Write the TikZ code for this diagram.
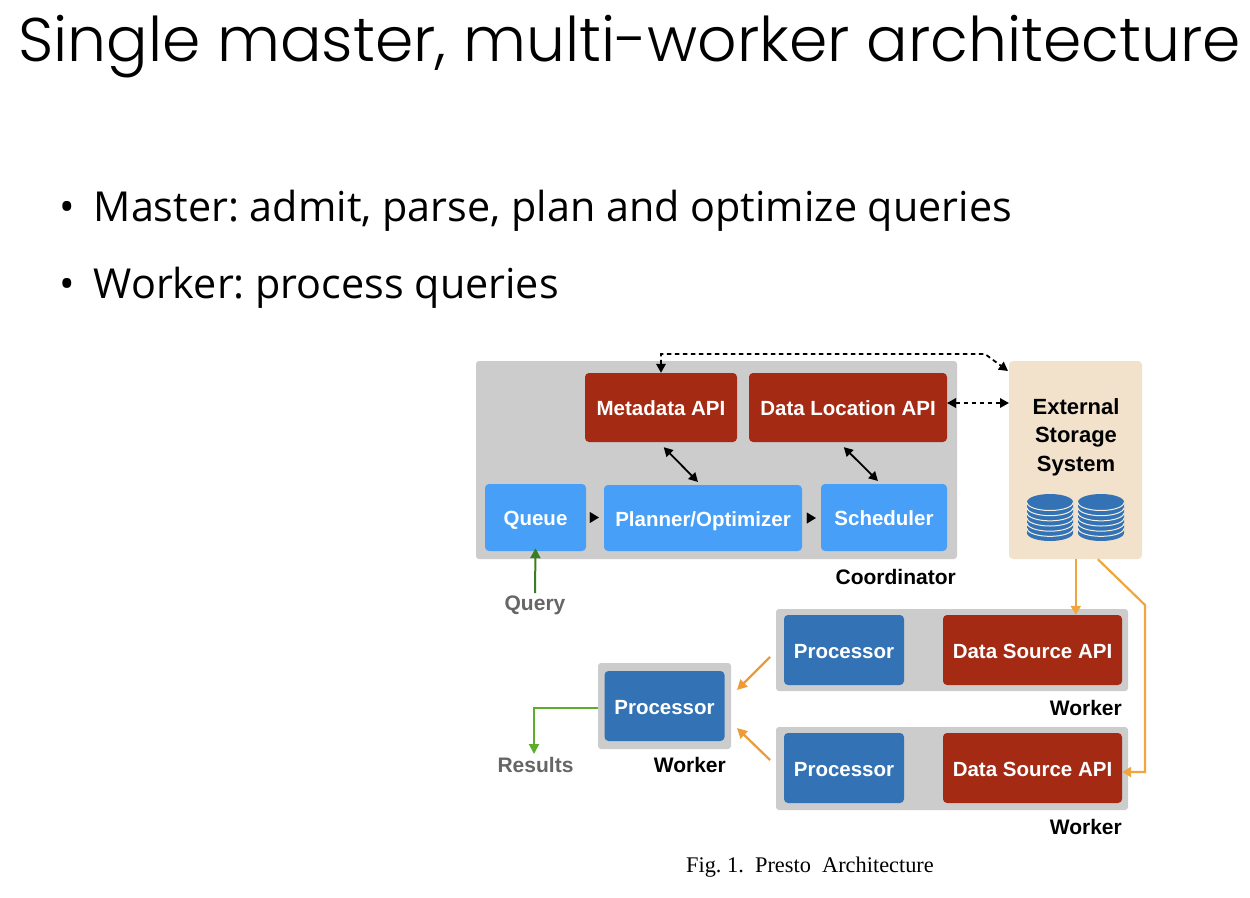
\documentclass[tikz,border=0pt]{standalone}
\usepackage{fontspec}
\setmainfont{Liberation Sans}
\newfontfamily\titlefont{Poppins}[UprightFont=* Light]
\newfontfamily\bodyfont{Open Sans}
\newfontfamily\capfont{Liberation Serif}
\usetikzlibrary{arrows.meta,calc}
\definecolor{panel}{HTML}{CCCCCC}
\definecolor{apired}{HTML}{A52A14}
\definecolor{lightblue}{HTML}{479FF8}
\definecolor{procblue}{HTML}{3373B5}
\definecolor{sand}{HTML}{F2E2CC}
\definecolor{orangeA}{HTML}{F0A63C}
\definecolor{orangeB}{HTML}{EF9A35}
\definecolor{greenA}{HTML}{3A7D22}
\definecolor{greenB}{HTML}{5BAD2B}
\definecolor{greytext}{HTML}{666666}
\tikzset{
  box/.style={inner sep=0pt,rounded corners=4pt,align=center,text=white,text height=16pt,text depth=0pt,font=\fontsize{20.5}{24}\selectfont\bfseries},
  panelbox/.style={fill=panel,draw=none,rounded corners=3pt,inner sep=0pt},
  apibox/.style={box,fill=apired},
  planbox/.style={box,fill=lightblue},
  procbox/.style={box,fill=procblue},
  caplabel/.style={inner sep=0pt,font=\fontsize{21}{24}\selectfont\bfseries},
  twoway/.style={line width=1.8pt,{Triangle[length=9pt,width=9.5pt]}-{Triangle[length=9pt,width=9.5pt]}},
  dashway/.style={twoway,dash pattern=on 4.5pt off 3.5pt},
  stepper/.style={-{Triangle[length=9pt,width=11pt]},draw=black,line width=.1pt},
  orangeflow/.style={line width=2.2pt,draw=orangeA,-{Triangle[length=9pt,width=10pt]}},
  orangeside/.style={line width=2.2pt,draw=orangeB,-{Triangle[length=10pt,width=10pt]}},
}
\newcommand{\diskstack}[2]{%
  \fill[procblue] (#1-23,#2-31) -- (#1-23,#2) arc[start angle=180,end angle=0,x radius=23,y radius=8] -- (#1+23,#2-31) arc[start angle=0,end angle=-180,x radius=23,y radius=8] -- cycle;
  \foreach \k in {0,...,5}{
    \draw[sand!60!white,line width=1pt] (#1-23,#2-30.5+\k*5.17) arc[start angle=180,end angle=0,x radius=23,y radius=8];
  }
}
\begin{document}
\begin{tikzpicture}[x=1pt,y=-1pt]
\frenchspacing
\useasboundingbox (0,0) rectangle (1250,897);
\fill[white] (0,0) rectangle (1250,897);

\node[anchor=base west,inner sep=0pt,font=\titlefont\fontsize{61.6}{70}\selectfont] (title) at (18,61) {Single master, multi-worker architecture};
\node[anchor=base west,inner sep=0pt,font=\bodyfont\fontsize{41.3}{50}\selectfont] (b1) at (59,221) {•\hspace{19pt}Master: admit, parse, plan and optimize queries};
\node[anchor=base west,inner sep=0pt,font=\bodyfont\fontsize{41.3}{50}\selectfont] (b2) at (59,298) {•\hspace{19pt}Worker: process queries};

% panels
\node[panelbox,minimum width=481pt,minimum height=198pt] (coord) at (716.5,460) {};
\node[fill=sand,rounded corners=4pt,inner sep=0pt,minimum width=133pt,minimum height=198pt] (ext) at (1075.5,460) {};
\node[panelbox,minimum width=352pt,minimum height=82pt] (w1) at (952,650) {};
\node[panelbox,minimum width=352pt,minimum height=83pt] (w2) at (952,768.5) {};
\node[panelbox,minimum width=133pt,minimum height=86pt] (w3) at (664.5,706) {};

% coordinator boxes
\node[apibox,minimum width=152pt,minimum height=69pt] (meta) at (661,407.5) {Metadata API};
\node[apibox,minimum width=198pt,minimum height=69pt] (loc) at (848,407.5) {Data Location API};
\node[planbox,minimum width=101pt,minimum height=67pt] (queue) at (535.5,517.5) {Queue};
\node[planbox,minimum width=198pt,minimum height=66pt] (plan) at (703,518) {Planner/Optimizer};
\node[planbox,minimum width=126pt,minimum height=67pt] (sched) at (884,517.5) {Scheduler};

% worker boxes
\node[procbox,minimum width=120pt,minimum height=70pt] (p1) at (844,650) {Processor};
\node[apibox,minimum width=179pt,minimum height=70pt] (d1) at (1032.5,650) {Data Source API};
\node[procbox,minimum width=120pt,minimum height=70pt] (p2) at (844,768) {Processor};
\node[apibox,minimum width=179pt,minimum height=70pt] (d2) at (1032.5,768) {Data Source API};
\node[procbox,minimum width=120pt,minimum height=70pt] (p3) at (664.5,706) {Processor};

% labels
\node[inner sep=0pt,align=center,font=\fontsize{22}{28.5}\selectfont\bfseries] (exttext) at (1076,437) {External\\Storage\\System};
\node[caplabel,anchor=base east] (lc) at (956,584) {Coordinator};
\node[caplabel,anchor=base east] (lw1) at (1122,715) {Worker};
\node[caplabel,anchor=base east] (lw2) at (1122,834) {Worker};
\node[caplabel,anchor=base east] (lw3) at (726,772) {Worker};
\node[caplabel,anchor=base,text=greytext] (query) at (535,610) {Query};
\node[caplabel,anchor=base,text=greytext] (results) at (535.5,772.5) {Results};
\node[inner sep=0pt,anchor=base,font=\capfont\fontsize{22.35}{26}\selectfont] (figcap) at (810,872) {Fig.\ 1.\ \ Presto\ \ Architecture};

% disks
\diskstack{1050}{533}
\diskstack{1101}{533}

% black connectors
\coordinate (topa) at (661,354);
\coordinate (topb) at (985,354);
\coordinate (exttop) at (1008,371);
\draw[dashway] (meta.north) -- (topa) -- (topb) -- (exttop);
\coordinate (locr) at (947,403);
\coordinate (extl) at (1009,403);
\draw[dashway] (locr) -- (extl);
\draw[twoway,shorten >=4pt,shorten <=7pt] ($(meta.south west)+(74,0)$) -- ($(plan.north west)+(97,0)$);
\draw[twoway,shorten >=4pt,shorten <=7pt] ($(loc.south west)+(90,0)$) -- ($(sched.north west)+(60,0)$);
\draw[stepper,shorten <=4pt,shorten >=5pt] (queue.east) -- (queue.east -| plan.west);
\draw[stepper,shorten <=4.5pt,shorten >=5pt] (plan.east) -- (plan.east -| sched.west);

% green connectors
\draw[line width=2pt,draw=greenA,-{Triangle[length=10pt,width=10pt]}] ($(query.base)+(0,-17)$) -- ($(queue.south)+(0,-3)$);
\coordinate (rbend) at (534,708);
\coordinate (rtip) at (534,754);
\draw[line width=2pt,draw=greenB,-{Triangle[length=10pt,width=10pt]}] (w3.west |- rbend) -- (rbend) -- (rtip);

% orange connectors
\draw[orangeflow] ($(ext.south west)+(67,0)$) -- ($(d1.north west)+(133,0)$);
\coordinate (bend1) at (1145,605);
\coordinate (bend2) at (1145,772);
\draw[orangeflow] ($(ext.south west)+(89,0)$) -- (bend1) -- (bend2) -- (d2.east |- bend2);
\coordinate (o1) at (770,657);
\coordinate (o2) at (770,760);
\coordinate (o3) at (737,690);
\coordinate (o4) at (737,728);
\draw[orangeside] (o1) -- (o3);
\draw[orangeside] (o2) -- (o4);
\end{tikzpicture}
\end{document}
